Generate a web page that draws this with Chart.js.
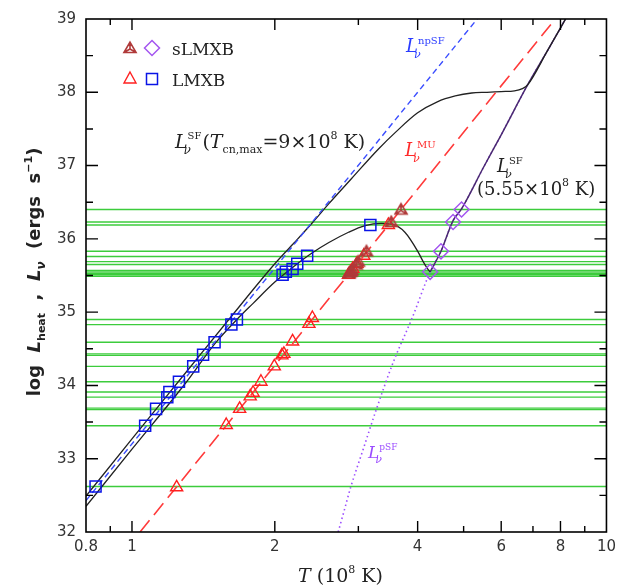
<!DOCTYPE html>
<html>
<head>
<meta charset="utf-8">
<script src="https://cdn.jsdelivr.net/npm/chart.js@4.4.0/dist/chart.umd.min.js"></script>
<style>
  html, body { margin: 0; padding: 0; background: #fff; }
  #wrap { width: 622px; height: 587px; }
</style>
</head>
<body>
<div id="wrap"><canvas id="chart1"></canvas></div>
<script>
// axis ticks
const xTicks = [0.8, 1, 2, 4, 6, 8, 10];
const xMinor = [0.9, 3, 5, 7, 9];
const yTicks = [32, 33, 34, 35, 36, 37, 38, 39];

// observed luminosities (green lines)
const greenL = [32.62, 33.45, 33.67, 33.69, 33.84, 33.91, 34.05, 34.26, 34.41, 34.43, 34.59, 34.83, 34.90,
  35.49, 35.51, 35.53, 35.55, 35.57, 35.65, 35.69, 35.76, 35.83, 36.19, 36.23, 36.40];

// curves (T in 1e8 K, log L)
const npsfT = [0.8, 5.34];
const npsfL = [32.43, 39.0];
const muT = [1.04, 7.8];
const muL = [32.0, 39.0];
const psfT = [2.72, 2.8, 2.89, 3.05, 3.28, 3.56, 3.9, 4.25, 4.48, 4.75, 4.95, 5.5, 6.0, 6.82, 7.5, 8.2];
const psfL = [32.0, 32.29, 32.61, 33.07, 33.69, 34.33, 34.93, 35.55, 35.83, 36.25, 36.41, 36.97, 37.42, 38.10, 38.56, 39.0];
const sfAT = [0.8, 1.0, 1.3, 1.6, 2.0, 2.2, 2.4, 2.6, 2.9, 3.3, 3.6, 4.0, 4.4, 4.8, 5.2, 5.6, 6.0, 6.4, 6.65, 6.82, 7.5, 8.2];
const sfAL = [32.49, 33.27, 34.18, 34.90, 35.66, 35.95, 36.22, 36.48, 36.82, 37.22, 37.46, 37.72, 37.87, 37.95, 37.99, 38.0, 38.01, 38.02, 38.05, 38.10, 38.56, 39.0];
const sfBT = [0.8, 1.0, 1.3, 1.5, 1.664, 1.8, 2.0, 2.2, 2.4, 2.6, 2.86, 3.1, 3.35, 3.53, 3.76, 4.01, 4.1, 4.21, 4.25];
const sfBL = [32.35, 33.13, 34.04, 34.58, 34.90, 35.12, 35.41, 35.63, 35.81, 35.95, 36.09, 36.18, 36.21, 36.20, 36.09, 35.82, 35.70, 35.58, 35.55];
const sfB2T = [4.25, 4.48, 4.75, 4.95, 5.5, 6.0, 6.82, 7.5, 8.2];
const sfB2L = [35.55, 35.83, 36.25, 36.41, 36.97, 37.42, 38.10, 38.56, 39.0];

// sources
const sqT = [0.838, 1.066, 1.124, 1.187, 1.199, 1.256, 1.346, 1.412, 1.493, 1.62, 1.664, 2.077, 2.11, 2.18, 2.23, 2.34, 3.18];
const sqL = [32.62, 33.45, 33.68, 33.84, 33.91, 34.05, 34.26, 34.42, 34.59, 34.83, 34.90, 35.51, 35.55, 35.59, 35.66, 35.77, 36.19];
const triT = [1.242, 1.58, 1.686, 1.775, 1.80, 1.87, 1.995, 2.07, 2.09, 2.18, 2.36, 2.40, 2.86, 2.89, 2.92, 2.98, 3.08, 3.47];
const triL = [32.61, 33.46, 33.68, 33.85, 33.90, 34.05, 34.26, 34.41, 34.43, 34.60, 34.84, 34.92, 35.51, 35.55, 35.59, 35.66, 35.77, 36.19];
const striT = [2.87, 2.89, 2.91, 2.97, 3.0, 3.12, 3.52, 3.69];
const striL = [35.53, 35.55, 35.57, 35.65, 35.69, 35.83, 36.23, 36.40];
const diaT = [4.25, 4.48, 4.75, 4.95];
const diaL = [35.55, 35.83, 36.23, 36.40];

function pts(t, l) { return t.map((v, i) => ({ x: v, y: l[i] })); }

// skeletal triangle marker for sLMXB
function starTri(color, r) {
  const c = document.createElement('canvas');
  c.width = c.height = 2 * r + 4;
  const g = c.getContext('2d');
  const cx = r + 2, cy = r + 2 + r * 0.15;
  const v = [-90, 30, 150].map(a => [cx + r * Math.cos(a * Math.PI / 180), cy + r * Math.sin(a * Math.PI / 180)]);
  g.strokeStyle = color; g.lineWidth = 1.6;
  g.beginPath();
  g.moveTo(v[0][0], v[0][1]); g.lineTo(v[1][0], v[1][1]); g.lineTo(v[2][0], v[2][1]); g.closePath();
  v.forEach(p => { g.moveTo(cx, cy); g.lineTo(p[0], p[1]); });
  g.stroke();
  return c;
}
const starImg = starTri('#b03a3a', 7);

const green = '#3ccc3c';
const serif = '"DejaVu Serif"';
const sans = '"DejaVu Sans"';
const datasets = [];
// markers on top
datasets.push({ data: pts(diaT, diaL), pointStyle: 'rectRot', pointRadius: 7.5, borderColor: '#a456f0', borderWidth: 1.5, backgroundColor: 'rgba(0,0,0,0)', order: 0 });
datasets.push({ data: pts(striT, striL), pointStyle: starImg, pointRadius: 7, order: 0 });
datasets.push({ data: pts(triT, triL), pointStyle: 'triangle', pointRadius: 7, borderColor: '#ff2020', borderWidth: 1.4, backgroundColor: 'rgba(0,0,0,0)', order: 0 });
datasets.push({ data: pts(sqT, sqL), pointStyle: 'rect', pointRadius: 7.8, borderColor: '#0a14e6', borderWidth: 1.5, backgroundColor: 'rgba(0,0,0,0)', order: 0 });
// curves
function curve(t, l, color, width, dash) {
  return { data: pts(t, l), showLine: true, pointRadius: 0, borderColor: color, borderWidth: width,
    borderDash: dash, cubicInterpolationMode: 'monotone', order: 1 };
}
datasets.push(curve(npsfT, npsfL, '#3a4dff', 1.4, [6, 4]));
datasets.push(curve(muT, muL, '#ff3b3b', 1.6, [15, 7]));
datasets.push(curve(sfAT, sfAL, '#222', 1.3, []));
datasets.push(curve(sfBT, sfBL, '#222', 1.3, []));
datasets.push(curve(sfB2T, sfB2L, '#4a2a70', 1.5, []));
datasets.push(curve(psfT, psfL, '#9b4dff', 1.6, [1.5, 3]));
// green lines behind
greenL.forEach(v => {
  datasets.push({ data: [{ x: 0.8, y: v }, { x: 10, y: v }], showLine: true, pointRadius: 0,
    borderColor: green, borderWidth: 1.4, order: 2 });
});

function lnu(ctx, x, y, sup, color, size) {
  ctx.fillStyle = color;
  ctx.font = 'italic ' + size + 'px ' + serif;
  ctx.fillText('L', x, y);
  const w = ctx.measureText('L').width;
  ctx.font = 'italic ' + Math.round(size * 0.62) + 'px ' + serif;
  ctx.fillText('\u03bd', x + w - 4, y + size * 0.32);
  ctx.font = Math.round(size * 0.55) + 'px ' + serif;
  ctx.fillText(sup, x + w, y - size * 0.45);
  return x + w + ctx.measureText(sup).width;
}

// draws a run of [font, text, dy] pieces starting at x
function run(ctx, x, y, parts) {
  parts.forEach(p => { ctx.font = p[0]; ctx.fillText(p[1], x, y + p[2]); x += ctx.measureText(p[1]).width; });
  return x;
}

const decor = {
  id: 'decor',
  afterDraw(chart) {
    const { ctx, chartArea: a, scales: { x, y } } = chart;
    ctx.save();
    ctx.strokeStyle = '#000';
    ctx.lineWidth = 1.4;
    ctx.beginPath();
    xTicks.slice(1, -1).forEach(v => {
      const px = x.getPixelForValue(v);
      ctx.moveTo(px, a.bottom); ctx.lineTo(px, a.bottom - 11);
      ctx.moveTo(px, a.top); ctx.lineTo(px, a.top + 11);
    });
    xMinor.forEach(v => {
      const px = x.getPixelForValue(v);
      ctx.moveTo(px, a.bottom); ctx.lineTo(px, a.bottom - 6);
      ctx.moveTo(px, a.top); ctx.lineTo(px, a.top + 6);
    });
    yTicks.slice(1, -1).forEach(v => {
      const py = y.getPixelForValue(v);
      ctx.moveTo(a.left, py); ctx.lineTo(a.left + 12, py);
      ctx.moveTo(a.right, py); ctx.lineTo(a.right - 12, py);
    });
    yTicks.slice(0, -1).forEach(v => {
      const py = y.getPixelForValue(v + 0.5);
      ctx.moveTo(a.left, py); ctx.lineTo(a.left + 7, py);
      ctx.moveTo(a.right, py); ctx.lineTo(a.right - 7, py);
    });
    ctx.stroke();
    ctx.lineWidth = 1.6;
    ctx.strokeRect(a.left, a.top, a.right - a.left, a.bottom - a.top);

    // legend
    ctx.drawImage(starImg, 130 - starImg.width / 2, 48 - starImg.height / 2);
    ctx.strokeStyle = '#a456f0'; ctx.lineWidth = 1.5;
    ctx.beginPath();
    ctx.moveTo(152, 40.5); ctx.lineTo(159.5, 48); ctx.lineTo(152, 55.5); ctx.lineTo(144.5, 48); ctx.closePath();
    ctx.stroke();
    ctx.strokeStyle = '#ff2020'; ctx.lineWidth = 1.4;
    ctx.beginPath();
    ctx.moveTo(130, 72); ctx.lineTo(136, 83); ctx.lineTo(124, 83); ctx.closePath();
    ctx.stroke();
    ctx.strokeStyle = '#0a14e6'; ctx.lineWidth = 1.5;
    ctx.strokeRect(146.5, 73.5, 11, 11);
    ctx.fillStyle = '#222';
    ctx.font = '17px ' + serif;
    ctx.textBaseline = 'alphabetic';
    ctx.fillText('sLMXB', 172, 55);
    ctx.fillText('LMXB', 172, 86);

    // curve labels
    lnu(ctx, 406, 52, 'npSF', '#2a3cff', 18);
    lnu(ctx, 405, 156, 'MU', '#ff2a2a', 18);
    lnu(ctx, 368, 458, 'pSF', '#9b4dff', 17);
    lnu(ctx, 497, 172, 'SF', '#222', 18);
    ctx.fillStyle = '#222';
    run(ctx, 477, 195, [
      ['18px ' + serif, '(5.55\u00d710', 0],
      ['11px ' + serif, '8', -9],
      ['18px ' + serif, ' K)', 0]
    ]);
    let lx = lnu(ctx, 175, 148, 'SF', '#222', 19);
    run(ctx, lx + 1, 148, [
      ['19px ' + serif, '(', 0],
      ['italic 19px ' + serif, 'T', 0],
      ['11px ' + serif, 'cn,max', 5],
      ['19px ' + serif, '=9\u00d710', 0],
      ['11px ' + serif, '8', -9],
      ['19px ' + serif, ' K)', 0]
    ]);

    // x title
    run(ctx, 298, 582, [
      ['italic 19px ' + serif, 'T', 0],
      ['19px ' + serif, ' (10', 0],
      ['11px ' + serif, '8', -9],
      ['19px ' + serif, ' K)', 0]
    ]);

    // y title
    ctx.translate(40, 272);
    ctx.rotate(-Math.PI / 2);
    const parts = [
      ['bold 18px ' + sans, 'log  ', 0],
      ['bold italic 18px ' + sans, 'L', 0],
      ['bold 11px ' + sans, 'heat', 5],
      ['bold 18px ' + sans, '  ,  ', 0],
      ['bold italic 18px ' + sans, 'L', 0],
      ['bold italic 12px ' + sans, '\u03bd', 5],
      ['bold 18px ' + sans, '  (ergs  s', 0],
      ['bold 11px ' + sans, '\u22121', -8],
      ['bold 18px ' + sans, ')', 0]
    ];
    let tot = 0;
    parts.forEach(p => { ctx.font = p[0]; tot += ctx.measureText(p[1]).width; });
    run(ctx, -tot / 2, 0, parts);
    ctx.restore();
  }
};

const config = {
  type: 'scatter',
  data: { datasets: datasets },
  options: {
    responsive: true,
    maintainAspectRatio: false,
    animation: false,
    layout: { padding: { top: 15, right: 13, left: 0, bottom: 0 } },
    plugins: { legend: { display: false }, tooltip: { enabled: false } },
    scales: {
      x: {
        type: 'logarithmic', min: 0.8, max: 10,
        afterBuildTicks: s => { s.ticks = xTicks.map(v => ({ value: v })); },
        afterFit: s => { s.height = 55; },
        ticks: { callback: v => String(v), autoSkip: false, maxRotation: 0, padding: 6,
          color: '#333', font: { family: 'DejaVu Sans', size: 15 } },
        grid: { display: false, drawTicks: false },
        border: { display: false }
      },
      y: {
        min: 32, max: 39,
        afterBuildTicks: s => { s.ticks = yTicks.map(v => ({ value: v })); },
        afterFit: s => { s.width = 86; },
        ticks: { autoSkip: false, padding: 10, color: '#333',
          font: { family: 'DejaVu Sans', size: 15 } },
        grid: { display: false, drawTicks: false },
        border: { display: false }
      }
    }
  },
  plugins: [decor]
};

const myChart = new Chart(document.getElementById('chart1'), config);
</script>
</body>
</html>
